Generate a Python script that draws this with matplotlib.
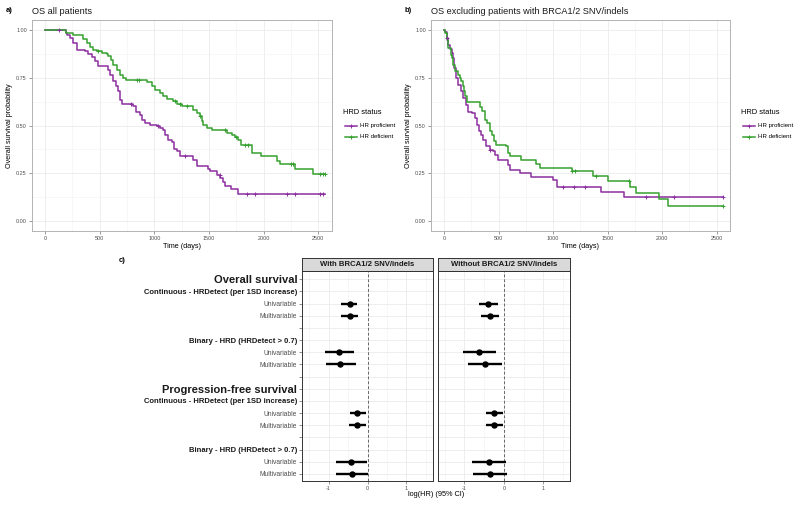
import numpy as np
import matplotlib.pyplot as plt
from matplotlib.lines import Line2D
from matplotlib.ticker import MultipleLocator

plt.rcParams['font.family'] = ['Liberation Sans', 'DejaVu Sans']
plt.rcParams['axes.unicode_minus'] = False

# ---- Kaplan-Meier data ----
# a) OS all patients
a_prof_t = [0, 192, 204, 229, 259, 290, 366, 396, 427, 457, 488, 579, 595, 619, 650, 671, 686, 701, 808, 833,
            869, 884, 915, 961, 1021, 1052, 1082, 1098, 1128, 1159, 1183, 1204, 1235, 1357, 1387, 1494, 1509,
            1570, 1601, 1625, 1646, 1700, 1762]
a_prof_s = [1.0, .983, .974, .957, .93, .896, .89, .873, .856, .838, .809, .791, .765, .73, .704, .678, .635, .614,
            .6, .571, .556, .53, .513, .505, .496, .487, .474, .452, .426, .412, .378, .365, .343, .322, .29, .273,
            .261, .243, .226, .204, .186, .169, .145]
a_prof_cens = [131, 790, 1030, 1280, 1600, 1845, 1921, 2211, 2287, 2515, 2546]

a_def_t = [0, 192, 253, 345, 381, 412, 442, 473, 518, 564, 579, 600, 625, 656, 686, 717, 741, 930, 976, 1006,
           1052, 1082, 1113, 1174, 1204, 1250, 1357, 1387, 1418, 1433, 1448, 1479, 1525, 1662, 1707, 1738, 1768,
           1790, 1890, 1975, 2119, 2150, 2287, 2455]
a_def_s = [1.0, .983, .974, .953, .93, .908, .895, .887, .878, .873, .861, .843, .817, .791, .765, .748, .739, .725,
           .704, .687, .67, .652, .638, .626, .612, .603, .583, .565, .548, .522, .504, .487, .475, .461, .452, .44,
           .425, .397, .357, .339, .313, .299, .273, .247]
a_def_cens = [480, 840, 860, 1190, 1230, 1300, 1420, 1650, 1750, 1830, 1860, 2250, 2272, 2515, 2540, 2560]

# b) OS excluding patients with BRCA1/2 SNV/indels
b_prof_t = [0, 12, 24, 38, 55, 70, 79, 91, 109, 131, 152, 176, 200, 222, 261, 283, 304, 322, 343, 358,
            389, 419, 450, 465, 495, 586, 601, 699, 793, 1000, 1040, 1437, 1650]
b_prof_s = [1.0, .985, .957, .922, .9, .878, .852, .8, .748, .713, .678, .644, .609, .571, .565, .539, .504, .47,
            .452, .426, .391, .374, .365, .344, .322, .296, .266, .25, .232, .215, .178, .155, .128]
b_prof_cens = [30, 420, 1090, 1190, 1290, 1850, 2110, 2560]

b_def_t = [0, 12, 24, 38, 61, 70, 85, 100, 131, 146, 152, 170, 182, 191, 207, 328, 352, 374, 395, 419,
           443, 456, 474, 571, 586, 601, 708, 845, 881, 1178, 1367, 1507, 1701, 1762, 1975, 2054]
b_def_s = [1.0, .983, .948, .904, .87, .852, .817, .783, .765, .748, .73, .704, .678, .652, .623, .595, .574, .53,
           .513, .473, .452, .417, .4, .391, .357, .339, .318, .299, .278, .261, .238, .209, .178, .148, .118, .078]
b_def_cens = [1178, 1200, 1395, 1700, 2560]

end_time = 2560

# ---- forest plot data ----
row_labels = ["Overall survival", "Continuous - HRDetect (per 1SD increase)", "Univariable", "Multivariable", "",
              "Binary - HRD (HRDetect > 0.7)", "Univariable", "Multivariable", "",
              "Progression-free survival", "Continuous - HRDetect (per 1SD increase)", "Univariable", "Multivariable",
              "", "Binary - HRD (HRDetect > 0.7)", "Univariable", "Multivariable"]
panel_titles = ["With BRCA1/2 SNV/indels", "Without BRCA1/2 SNV/indels"]
with_est = [-0.46, -0.46, -0.73, -0.70, -0.26, -0.27, -0.42, -0.40]
with_lo = [-0.67, -0.67, -1.10, -1.07, -0.46, -0.47, -0.82, -0.82]
with_hi = [-0.26, -0.25, -0.34, -0.30, -0.04, -0.04, -0.02, 0.00]
wo_est = [-0.39, -0.35, -0.62, -0.48, -0.24, -0.24, -0.38, -0.35]
wo_lo = [-0.62, -0.57, -1.05, -0.91, -0.46, -0.46, -0.80, -0.78]
wo_hi = [-0.16, -0.12, -0.19, -0.05, -0.01, -0.02, 0.06, 0.09]

purple = '#8B2F9F'
green = '#35A02F'
W, H = 800, 507


def rect(x0, y0, x1, y1):
    return [x0 / W, 1 - y1 / H, (x1 - x0) / W, (y1 - y0) / H]


def fx(x, y):
    return x / W, 1 - y / H


fig = plt.figure(figsize=(8, 5.07), dpi=100)


def km_panel(r, curves, title, label, lx, ylab_x):
    ax = fig.add_axes(r)
    for t, s, cens, col in curves:
        tt = np.array(t + [end_time])
        ss = np.array(s + [s[-1]])
        ax.step(tt, ss, where='post', color=col, lw=1.1, zorder=3)
        idx = np.searchsorted(tt, cens, side='right') - 1
        ax.plot(cens, ss[idx], ls='none', marker='+', ms=3.5, mew=0.7, color=col, zorder=4)
    ax.set_xlim(-122, 2622)
    ax.set_ylim(-0.05, 1.05)
    ax.set_xticks([0, 500, 1000, 1500, 2000, 2500])
    ax.set_yticks([0, .25, .5, .75, 1.0])
    ax.set_yticklabels(['0.00', '0.25', '0.50', '0.75', '1.00'])
    ax.xaxis.set_minor_locator(MultipleLocator(250))
    ax.yaxis.set_minor_locator(MultipleLocator(0.125))
    ax.grid(which='major', color='#ebebeb', lw=0.6)
    ax.grid(which='minor', color='#f2f2f2', lw=0.4)
    ax.set_axisbelow(True)
    ax.tick_params(labelsize=3.9, colors='#4d4d4d', length=2, width=0.4, pad=1.5)
    ax.tick_params(which='minor', length=0)
    for sp in ax.spines.values():
        sp.set_color('#b3b3b3')
        sp.set_linewidth(0.7)
    ax.set_xlabel('Time (days)', fontsize=5.2, labelpad=1.5)
    ax.set_ylabel('Overall survival probability', fontsize=5.2, labelpad=2)
    fig.text(*fx(r[0] * W, 12), title, fontsize=6.6, va='center', ha='left', color='#1a1a1a')
    fig.text(*fx(lx, 11), label, fontsize=5.5, fontweight='bold', va='center')
    # legend
    fig.text(*fx(ylab_x, 113), 'HRD status', fontsize=5.4, va='center')
    for yy, col, name in [(126, purple, 'HR proficient'), (137, green, 'HR deficient')]:
        x0, y0 = fx(ylab_x + 2, yy)
        x1, _ = fx(ylab_x + 14, yy)
        fig.add_artist(Line2D([x0, x1], [y0, y0], color=col, lw=1.1, transform=fig.transFigure))
        fig.add_artist(Line2D([(x0 + x1) / 2], [y0], color=col, marker='+', ms=3.5, mew=0.7,
                              transform=fig.transFigure))
        fig.text(*fx(ylab_x + 17, yy), name, fontsize=4.4, va='center')
    return ax


km_panel(rect(31.7, 20, 331.7, 231), [(a_prof_t, a_prof_s, a_prof_cens, purple),
                                      (a_def_t, a_def_s, a_def_cens, green)],
         'OS all patients', 'a)', 6, 343)
km_panel(rect(430.7, 20, 730, 231), [(b_prof_t, b_prof_s, b_prof_cens, purple),
                                     (b_def_t, b_def_s, b_def_cens, green)],
         'OS excluding patients with BRCA1/2 SNV/indels', 'b)', 405, 741)

# ---- forest plot ----
item_rows = [i for i, l in enumerate(row_labels) if l in ('Univariable', 'Multivariable')]
headers = ('Overall survival', 'Progression-free survival')
panels = [(302, 433, with_est, with_lo, with_hi), (437.7, 570, wo_est, wo_lo, wo_hi)]
for k, (x0, x1, est, lo, hi) in enumerate(panels):
    ax = fig.add_axes(rect(x0, 271, x1, 481))
    est, lo, hi = np.array(est), np.array(lo), np.array(hi)
    ax.errorbar(est, item_rows, xerr=[est - lo, hi - est], fmt='o', color='black', ms=3.6,
                elinewidth=1.7, capsize=0, zorder=3)
    ax.axvline(0, color='#666666', ls=(0, (3, 2)), lw=0.7, zorder=2)
    ax.set_xlim(-1.68, 1.68)
    ax.set_ylim(len(row_labels) - 0.42, -0.68)
    ax.set_xticks([-1, 0, 1])
    ax.xaxis.set_minor_locator(MultipleLocator(0.5))
    ax.set_yticks(range(len(row_labels)))
    ax.grid(which='major', color='#ebebeb', lw=0.6)
    ax.grid(which='minor', axis='x', color='#f2f2f2', lw=0.4)
    ax.set_axisbelow(True)
    ax.tick_params(axis='x', labelsize=3.9, colors='#4d4d4d', length=2, width=0.4, pad=1.5)
    ax.tick_params(which='minor', length=0)
    for sp in ax.spines.values():
        sp.set_color('#333333')
        sp.set_linewidth(0.7)
    if k == 0:
        ax.set_yticklabels(row_labels)
        ax.tick_params(axis='y', length=2, width=0.4, colors='#333333', pad=1.5)
        for lab in ax.get_yticklabels():
            txt = lab.get_text()
            if txt in headers:
                lab.set_fontsize(8)
                lab.set_fontweight('bold')
                lab.set_color('#1a1a1a')
            elif txt in ('Univariable', 'Multivariable'):
                lab.set_fontsize(4.8)
                lab.set_color('#4d4d4d')
            else:
                lab.set_fontsize(5.5)
                lab.set_fontweight('bold')
                lab.set_color('#1a1a1a')
    else:
        ax.set_yticklabels([])
        ax.tick_params(axis='y', length=0)
    # strip
    sax = fig.add_axes(rect(x0, 258, x1, 271))
    sax.set_xticks([])
    sax.set_yticks([])
    sax.set_facecolor('#d9d9d9')
    for sp in sax.spines.values():
        sp.set_color('#333333')
        sp.set_linewidth(0.7)
    sax.text(0.5, 0.5, panel_titles[k], fontsize=5.6, fontweight='bold', ha='center', va='center',
             color='#1a1a1a', transform=sax.transAxes)

fig.text(*fx(436, 495), 'log(HR) (95% CI)', fontsize=5.3, ha='center', va='center')
fig.text(*fx(119, 260), 'c)', fontsize=5.5, fontweight='bold', va='center')

fig.savefig('out.png', dpi=100)
